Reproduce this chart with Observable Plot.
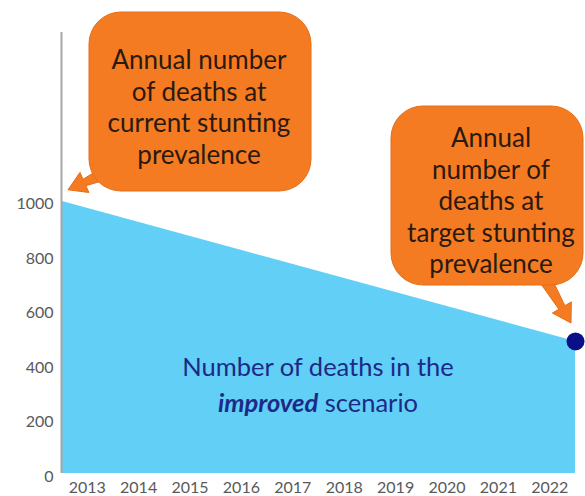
<!DOCTYPE html>
<html><head><meta charset="utf-8">
<script src="https://cdn.jsdelivr.net/npm/d3@7"></script>
<script src="https://cdn.jsdelivr.net/npm/@observablehq/plot@0.6"></script>
<style>body{margin:0;background:#fff;} svg{display:block;}</style>
</head><body><div id="chart"></div>
<script>
// ---- data ----
const periodStart = 2013;     // start of 2013
const periodEnd = 2023;       // end of 2022
const deathsCurrent = 1000;   // annual deaths at current stunting prevalence
const deathsTarget = 485;     // annual deaths at target stunting prevalence
const years = [2013, 2014, 2015, 2016, 2017, 2018, 2019, 2020, 2021, 2022];
const yTicks = [0, 200, 400, 600, 800, 1000];
const calloutCurrent = ["Annual number", "of deaths at", "current stunting", "prevalence"];
const calloutTarget = ["Annual", "number of", "deaths at", "target stunting", "prevalence"];
const areaLabel1 = "Number of deaths in the";
const areaLabel2a = "improved";
const areaLabel2b = " scenario";

const series = [{t: periodStart, v: deathsCurrent}, {t: periodEnd, v: deathsTarget}];

// ---- layout / style ----
const ORANGE = "#f57b22", ORANGE_EDGE = "#e46f18", TEXT_DARK = "#2a1a10";
const FONT = "Lato, 'Open Sans', sans-serif";

const plot = Plot.plot({
  width: 585, height: 496,
  marginLeft: 61, marginRight: 10, marginTop: 32, marginBottom: 23,
  x: {domain: [periodStart, periodEnd], label: null},
  y: {domain: [0, 1620], label: null},
  style: {fontFamily: FONT, background: "#fff"},
  marks: [
    Plot.areaY(series, {x: "t", y: "v", fill: "#62cff6"}),
    Plot.ruleX([periodStart], {stroke: "#a6a6a6", strokeWidth: 2}),
    Plot.axisY(yTicks, {tickSize: 0, tickPadding: 8, fontSize: 16, color: "#595959", dy: 3,
      label: null, tickFormat: d => String(d)}),
    Plot.axisX(years.map(y => y + 0.5), {tickSize: 0, tickPadding: 8, fontSize: 16, color: "#595959",
      label: null, tickFormat: d => String(Math.floor(d))}),
    Plot.dot([series[1]], {x: "t", y: "v", r: 9, fill: "#0a1088"})
  ]
});
document.getElementById("chart").append(plot);

const sx = plot.scale("x").apply, sy = plot.scale("y").apply;
const svg = d3.select(plot);
const g = svg.append("g").attr("font-family", FONT);

// tapered arrow: shaft width sw0 at start, sw1 at the head base
function arrowPath(x0, y0, x1, y1, sw0, sw1, hw, hl) {
  const dx = x1 - x0, dy = y1 - y0, L = Math.hypot(dx, dy);
  const ux = dx / L, uy = dy / L, nx = -uy, ny = ux;
  const bx = x1 - ux * hl, by = y1 - uy * hl;
  const pts = [
    [x0 + nx * sw0 / 2, y0 + ny * sw0 / 2],
    [bx + nx * sw1 / 2, by + ny * sw1 / 2],
    [bx + nx * hw / 2, by + ny * hw / 2],
    [x1, y1],
    [bx - nx * hw / 2, by - ny * hw / 2],
    [bx - nx * sw1 / 2, by - ny * sw1 / 2],
    [x0 - nx * sw0 / 2, y0 - ny * sw0 / 2]
  ];
  return "M" + pts.map(p => p.join(",")).join("L") + "Z";
}

function callout(box, tail, tip, lines, cx, firstY, lh) {
  g.append("path").attr("d", arrowPath(tail[0], tail[1], tip[0], tip[1], 14, 7, 22, 18))
    .attr("fill", ORANGE).attr("stroke", ORANGE_EDGE).attr("stroke-width", 1).attr("stroke-linejoin", "round");
  g.append("rect").attr("x", box[0]).attr("y", box[1]).attr("width", box[2] - box[0]).attr("height", box[3] - box[1])
    .attr("rx", 32).attr("fill", ORANGE).attr("stroke", ORANGE_EDGE).attr("stroke-width", 1);
  const t = g.append("text").attr("text-anchor", "middle").attr("font-size", 26).attr("fill", TEXT_DARK);
  lines.forEach((s, i) => t.append("tspan").attr("x", cx).attr("y", firstY + i * lh).text(s));
}

// callout pointing at the 2013 value
const tip1 = [sx(periodStart) + 7, sy(deathsCurrent) - 11];
callout([89, 12, 311, 191], [108, 172], tip1, calloutCurrent, 199, 69, 31.5);
// callout pointing at the 2022 value
const tip2 = [sx(periodEnd) - 4, sy(deathsTarget) - 18];
callout([391, 106, 583, 285], [541, 272], tip2, calloutTarget, 491, 147, 31.5);

// area label
const lab = g.append("text").attr("text-anchor", "middle").attr("font-size", 25.5).attr("fill", "#1c2a86");
lab.append("tspan").attr("x", 318).attr("y", 376).text(areaLabel1);
const l2 = lab.append("tspan").attr("x", 318).attr("y", 412);
l2.append("tspan").attr("font-weight", "bold").attr("font-style", "italic").text(areaLabel2a);
l2.append("tspan").text(areaLabel2b);
</script>
</body></html>
